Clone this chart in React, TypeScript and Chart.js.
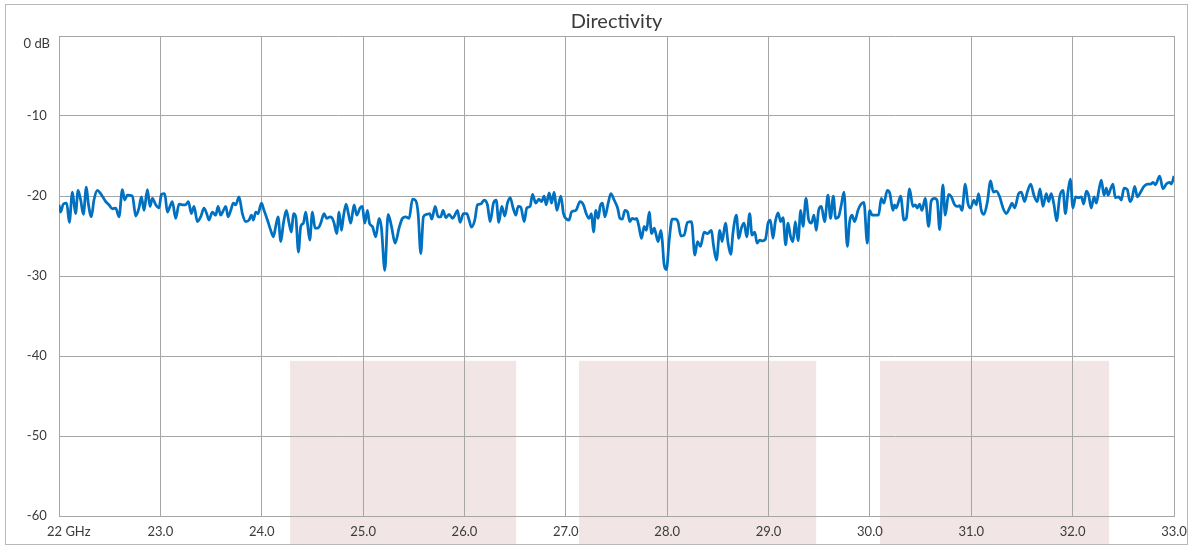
import React, { useEffect, useRef } from 'react';
import { Chart, registerables } from 'chart.js';

Chart.register(...registerables);

// Frequency (GHz) / directivity (dB) in four segments
const freqA = [22.000,22.016,22.043,22.076,22.102,22.132,22.148,22.164,22.188,22.214,22.240,22.270,22.289,22.319,22.345,22.378,22.411,22.461,22.493,22.526,22.559,22.592,22.625,22.648,22.674,22.724,22.757,22.789,22.813,22.839,22.872,22.898,22.921,22.954,22.987,23.010,23.043,23.069,23.095,23.118,23.151,23.184,23.217,23.250,23.276,23.306,23.332,23.365,23.398,23.431,23.457,23.480,23.513,23.546,23.569,23.595,23.622,23.645,23.668,23.694,23.720,23.743,23.776,23.809,23.842,23.875,23.898,23.918,23.941,23.964,23.997,24.023,24.056,24.089,24.115,24.138,24.161,24.188,24.214,24.243,24.270,24.293,24.313,24.336,24.362,24.385,24.411,24.434,24.451,24.474,24.500,24.526,24.556,24.582,24.615,24.641,24.674,24.697,24.714];
const dbA = [-21.1,-22.0,-21.0,-20.9,-23.3,-19.5,-20.9,-22.2,-19.3,-20.5,-22.3,-18.9,-20.9,-22.6,-20.5,-19.3,-19.7,-20.7,-21.1,-21.6,-21.5,-22.6,-19.2,-20.5,-19.9,-20.0,-22.5,-21.5,-20.1,-21.8,-19.2,-21.3,-20.3,-21.1,-21.5,-19.8,-19.7,-22.0,-21.3,-20.7,-22.8,-21.0,-21.1,-21.1,-20.7,-22.2,-21.3,-23.2,-22.6,-21.5,-22.2,-23.0,-22.0,-22.4,-21.3,-22.4,-21.8,-21.3,-22.6,-21.8,-20.9,-21.1,-20.1,-22.2,-23.2,-23.0,-22.4,-23.0,-22.0,-22.2,-20.9,-21.8,-23.0,-24.3,-25.1,-23.8,-22.6,-25.7,-23.4,-21.8,-23.4,-24.5,-22.2,-22.6,-27.0,-23.8,-23.4,-22.0,-23.4,-25.5,-22.0,-24.0,-24.0,-23.4,-22.2,-22.8,-22.6,-22.8,-23.4];

const freqB = [24.740,24.763,24.786,24.806,24.832,24.855,24.878,24.911,24.938,24.970,24.993,25.016,25.043,25.063,25.092,25.125,25.158,25.181,25.214,25.247,25.280,25.316,25.355,25.388,25.421,25.454,25.487,25.520,25.543,25.569,25.595,25.628,25.658,25.678,25.711,25.740,25.766,25.789,25.816,25.849,25.882,25.905,25.931,25.957,25.990,26.023,26.046,26.069,26.102,26.128,26.161,26.194,26.227,26.253,26.286,26.313,26.339,26.368,26.398,26.424,26.451,26.480,26.507,26.530,26.556,26.589,26.615,26.648,26.671,26.704,26.734,26.760,26.786,26.806,26.836,26.859,26.885,26.911,26.951,26.977,27.010,27.033,27.056,27.099,27.141,27.174,27.201,27.230,27.253,27.273,27.296,27.319,27.339,27.362,27.385,27.418,27.444,27.477];
const dbB = [-24.7,-22.0,-24.3,-22.6,-21.0,-22.2,-23.4,-21.1,-22.4,-21.5,-21.3,-23.4,-21.8,-23.4,-23.8,-25.1,-22.8,-24.0,-29.3,-22.3,-23.8,-25.9,-24.0,-22.8,-22.6,-22.8,-20.4,-20.6,-22.2,-27.2,-22.6,-22.3,-22.2,-22.9,-21.3,-22.6,-22.6,-21.8,-22.7,-22.3,-22.8,-22.4,-21.8,-23.3,-22.2,-22.2,-23.0,-23.9,-23.0,-21.1,-21.0,-20.5,-21.1,-23.2,-20.9,-20.5,-23.3,-21.3,-22.5,-20.9,-20.2,-21.5,-22.4,-21.3,-21.4,-23.2,-21.5,-21.3,-19.8,-20.9,-20.4,-20.7,-20.0,-21.1,-19.6,-20.9,-19.5,-21.8,-20.0,-22.2,-22.9,-23.0,-22.0,-21.8,-20.7,-21.1,-22.2,-22.8,-22.2,-24.5,-21.8,-22.8,-21.3,-20.9,-22.6,-20.9,-19.7,-20.5];

const freqC = [27.511,27.534,27.557,27.583,27.609,27.632,27.655,27.681,27.698,27.721,27.747,27.773,27.796,27.823,27.846,27.872,27.888,27.911,27.938,27.951,27.970,27.993,28.020,28.049,28.082,28.108,28.135,28.167,28.200,28.240,28.273,28.299,28.328,28.365,28.397,28.437,28.456,28.486,28.519,28.542,28.575,28.601,28.627,28.650,28.683,28.706,28.732,28.759,28.785,28.814,28.837,28.864,28.887,28.913,28.939,28.969,28.995,29.018,29.044,29.067,29.094,29.120,29.143,29.169,29.192,29.218,29.241,29.264,29.291,29.317,29.340,29.369,29.396,29.422,29.448,29.471,29.494,29.521,29.553,29.586,29.612,29.639,29.662,29.691,29.718,29.744,29.777,29.800,29.823,29.849,29.882,29.908,29.941,29.974,29.997,30.023,30.053,30.085,30.112,30.138,30.171,30.197,30.227];
const dbC = [-21.5,-22.8,-22.9,-21.8,-22.0,-23.2,-22.8,-22.9,-22.8,-23.8,-25.3,-23.8,-24.3,-22.0,-24.7,-24.0,-24.7,-25.7,-24.3,-25.5,-28.6,-29.2,-25.5,-22.9,-22.9,-23.3,-25.0,-24.9,-23.3,-23.2,-27.4,-25.7,-26.3,-24.5,-24.7,-24.3,-26.1,-28.0,-24.3,-25.7,-23.4,-25.9,-27.3,-24.5,-22.4,-25.3,-24.0,-23.4,-25.1,-22.2,-24.9,-24.5,-25.9,-25.5,-25.6,-25.4,-23.4,-23.0,-25.3,-23.2,-22.1,-23.2,-22.7,-26.1,-23.4,-25.1,-25.7,-23.2,-25.6,-21.8,-23.8,-20.3,-23.0,-23.4,-22.4,-24.3,-21.8,-21.3,-23.2,-19.9,-22.8,-20.0,-22.8,-22.6,-21.1,-19.5,-26.3,-23.2,-22.4,-23.2,-21.8,-21.1,-20.8,-25.9,-21.8,-22.4,-22.4,-22.4,-20.3,-20.9,-19.3,-19.7,-21.8];

const freqD = [30.243,30.260,30.283,30.303,30.336,30.359,30.391,30.424,30.447,30.467,30.490,30.513,30.546,30.579,30.605,30.638,30.664,30.688,30.720,30.743,30.776,30.803,30.836,30.862,30.885,30.908,30.941,30.967,30.993,31.026,31.049,31.072,31.099,31.125,31.158,31.191,31.217,31.247,31.280,31.313,31.345,31.378,31.401,31.428,31.467,31.493,31.526,31.553,31.586,31.618,31.651,31.678,31.707,31.740,31.763,31.789,31.816,31.842,31.872,31.905,31.928,31.954,31.977,32.003,32.030,32.059,32.086,32.109,32.135,32.158,32.184,32.211,32.234,32.257,32.283,32.309,32.332,32.349,32.375,32.398,32.421,32.454,32.480,32.507,32.539,32.566,32.586,32.612,32.638,32.671,32.704,32.737,32.770,32.793,32.816,32.859,32.891,32.924,32.957,32.974,33.000];
const dbD = [-21.1,-21.5,-20.7,-20.0,-23.0,-22.8,-19.1,-21.3,-21.1,-21.5,-21.0,-21.8,-20.3,-23.8,-20.6,-20.3,-20.6,-24.2,-18.6,-22.4,-19.8,-20.1,-21.1,-21.3,-21.2,-21.8,-18.5,-20.9,-21.5,-20.5,-21.1,-19.7,-21.8,-22.3,-20.8,-18.1,-19.5,-19.4,-20.1,-21.5,-22.2,-21.5,-20.9,-21.5,-19.7,-19.5,-20.7,-19.5,-18.5,-19.9,-20.7,-19.1,-21.3,-19.7,-20.7,-19.7,-21.1,-23.1,-20.1,-19.3,-22.2,-19.5,-17.9,-21.5,-20.1,-20.2,-20.1,-21.0,-19.4,-19.9,-21.5,-20.1,-20.9,-19.4,-18.0,-19.9,-19.0,-19.9,-19.1,-18.5,-20.2,-20.1,-20.5,-19.0,-19.2,-20.7,-20.3,-18.8,-20.1,-19.5,-18.8,-18.5,-18.5,-18.3,-18.6,-17.5,-19.1,-18.5,-18.3,-18.5,-17.5];

// Axis ticks
const xTickValues = [22, 23, 24, 25, 26, 27, 28, 29, 30, 31, 32, 33];
const xTickLabels = ['22 GHz', '23.0', '24.0', '25.0', '26.0', '27.0', '28.0', '29.0', '30.0', '31.0', '32.0', '33.0'];
const yTickValues = [0, -10, -20, -30, -40, -50, -60];
const yTickLabels = ['0 dB', '-10', '-20', '-30', '-40', '-50', '-60'];

// Shaded frequency bands
const bandStartGHz = [24.28, 27.13, 30.10];
const bandEndGHz = [26.51, 29.47, 32.36];
const bandTopDb = -40.6;

const TEXT = '#3a3a3a';
const GRID = '#a6a6a6';
const FONT = 'Lato';

export default function App() {
  const ref = useRef<HTMLCanvasElement | null>(null);

  useEffect(() => {
    if (!ref.current) return;
    const freqs = [...freqA, ...freqB, ...freqC, ...freqD];
    const dbs = [...dbA, ...dbB, ...dbC, ...dbD];
    const points = freqs.map((f, i) => ({ x: f, y: dbs[i] }));

    const backdrop = {
      id: 'backdrop',
      beforeDraw(chart: any) {
        const { ctx, scales } = chart;
        const xs = scales.x;
        const ys = scales.y;
        ctx.save();
        ctx.fillStyle = '#ffffff';
        ctx.fillRect(0, 0, chart.width, chart.height);
        const top = ys.getPixelForValue(bandTopDb);
        const bottom = chart.height - 3;
        ctx.fillStyle = '#f2e5e5';
        bandStartGHz.forEach((s, i) => {
          const l = xs.getPixelForValue(s);
          const r = xs.getPixelForValue(bandEndGHz[i]);
          ctx.fillRect(l, top, r - l, bottom - top);
        });
        ctx.strokeStyle = '#b8b8b8';
        ctx.lineWidth = 1;
        ctx.strokeRect(5.5, 4.5, chart.width - 11, chart.height - 8);
        ctx.restore();
      },
    };

    const chart = new Chart(ref.current, {
      type: 'line',
      data: {
        datasets: [
          {
            label: 'Directivity',
            data: points,
            borderColor: '#0070c0',
            borderWidth: 2.75,
            pointRadius: 0,
            fill: false,
            cubicInterpolationMode: 'monotone',
          },
        ],
      },
      options: {
        animation: false,
        responsive: true,
        maintainAspectRatio: false,
        layout: { padding: { left: 12, right: 19, top: 0, bottom: 0 } },
        plugins: {
          legend: { display: false },
          tooltip: { enabled: false },
          title: {
            display: true,
            fullSize: false,
            text: 'Directivity',
            color: TEXT,
            font: { family: FONT, size: 20, weight: 'normal', lineHeight: 1.2 },
            padding: { top: 10, bottom: 2 },
          },
        },
        scales: {
          x: {
            type: 'linear',
            min: 22,
            max: 33,
            afterFit: (s: any) => { s.height = 32; },
            afterBuildTicks: (s: any) => { s.ticks = xTickValues.map((v) => ({ value: v })); },
            grid: { color: GRID, lineWidth: 1, drawTicks: false },
            border: { color: GRID },
            ticks: {
              color: TEXT,
              padding: 5,
              maxRotation: 0,
              autoSkip: false,
              font: { family: FONT, size: 13, lineHeight: 1.6 },
              callback: (v: any) => {
                const i = xTickValues.indexOf(Number(v));
                const lab = i >= 0 ? xTickLabels[i] : '';
                return i === 0 ? '\u2003\u2003' + lab : lab;
              },
            },
          },
          y: {
            type: 'linear',
            min: -60,
            max: 0,
            afterFit: (s: any) => { s.width = 47; },
            afterBuildTicks: (s: any) => { s.ticks = yTickValues.map((v) => ({ value: v })); },
            grid: { color: GRID, lineWidth: 1, drawTicks: false },
            border: { color: GRID },
            ticks: {
              color: TEXT,
              padding: 9,
              crossAlign: 'center',
              autoSkip: false,
              font: { family: FONT, size: 13 },
              callback: (v: any) => {
                const i = yTickValues.indexOf(Number(v));
                const lab = i >= 0 ? yTickLabels[i] : '';
                return i === 0 ? ['', lab] : lab;
              },
            },
          },
        },
      },
      plugins: [backdrop],
    });

    return () => chart.destroy();
  }, []);

  return (
    <div style={{ position: 'fixed', left: 0, top: 0, width: 1193, height: 548 }}>
      <canvas ref={ref} />
    </div>
  );
}
